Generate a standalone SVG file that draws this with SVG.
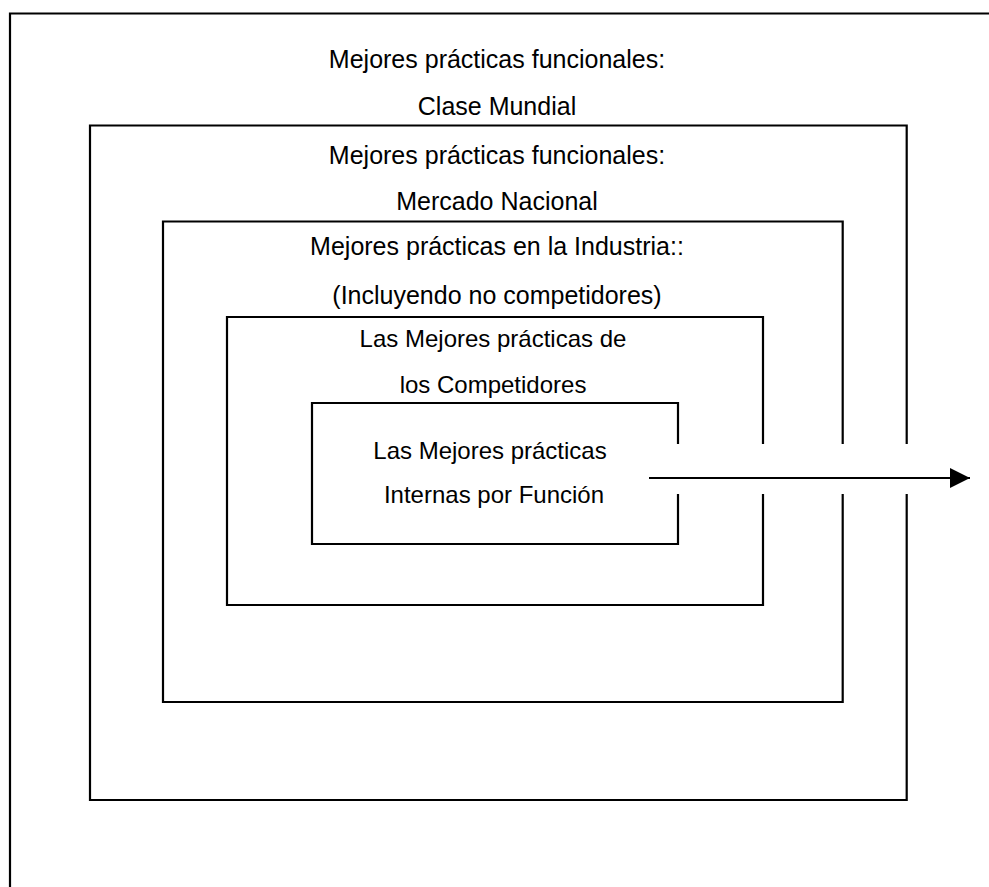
<svg xmlns="http://www.w3.org/2000/svg" width="989" height="887" viewBox="0 0 989 887">
<style>
.box{fill:none;stroke:#000;stroke-width:2.2}
.t{font-family:"Liberation Sans",Arial,sans-serif;fill:#000;text-anchor:middle}
.big{font-size:25px}
.small{font-size:24px}
.conn{stroke:#000;stroke-width:1.8;fill:none}
</style>
<defs>
<marker id="ah" markerWidth="20" markerHeight="20" refX="20" refY="10" orient="auto" markerUnits="userSpaceOnUse">
<path d="M0,0 L20,10 L0,20 Z" fill="#000"/>
</marker>
</defs>
<rect width="989" height="887" fill="#fff"/>
<g id="clase-mundial">
<path class="box" d="M10,890 V13.5 H992"/>
<text class="t big" x="497" y="68">Mejores prácticas funcionales:</text>
<text class="t big" x="497" y="115">Clase Mundial</text>
</g>
<g id="mercado-nacional">
<path class="box" d="M906.7,444 V125.5 H90 V800 H906.7 V494"/>
<text class="t big" x="497" y="164">Mejores prácticas funcionales:</text>
<text class="t big" x="497" y="210">Mercado Nacional</text>
</g>
<g id="industria">
<path class="box" d="M842.7,444 V221.5 H163 V702 H842.7 V494"/>
<text class="t big" x="497" y="255">Mejores prácticas en la Industria::</text>
<text class="t big" x="497" y="304">(Incluyendo no competidores)</text>
</g>
<g id="competidores">
<path class="box" d="M763,444 V317 H227 V605 H763 V494"/>
<text class="t small" x="493" y="347">Las Mejores prácticas de</text>
<text class="t small" x="493" y="393">los Competidores</text>
</g>
<g id="internas">
<path class="box" d="M678,444 V403 H312 V544 H678 V494"/>
<text class="t small" x="490" y="459">Las Mejores prácticas</text>
<text class="t small" x="494" y="503">Internas por Función</text>
</g>
<g id="connectors">
<line class="conn" x1="649" y1="478" x2="970" y2="478" marker-end="url(#ah)"/>
</g>
</svg>
